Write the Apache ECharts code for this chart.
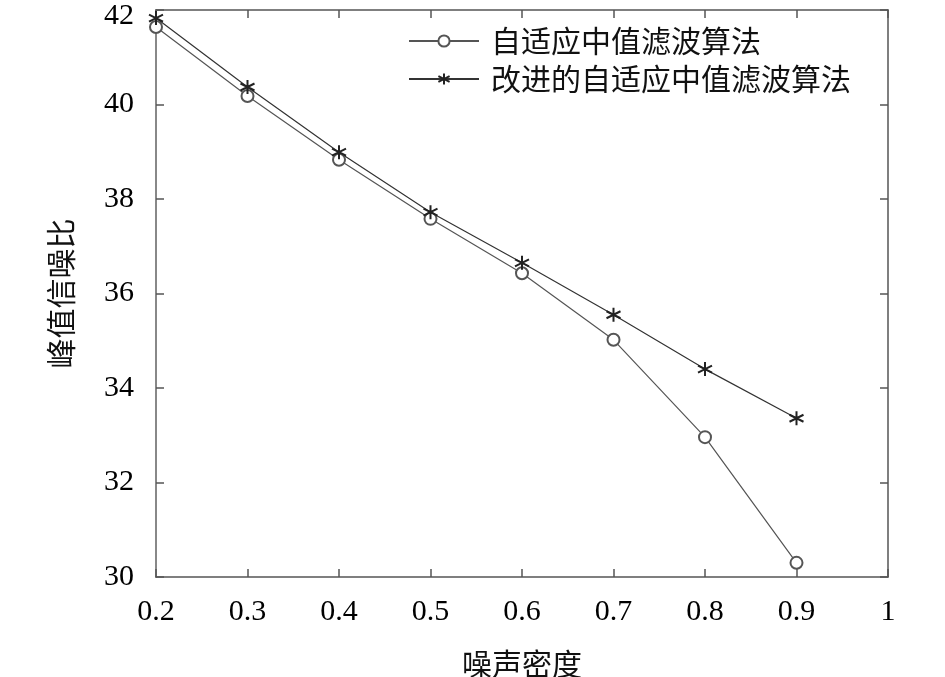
<!DOCTYPE html>
<html><head><meta charset="utf-8">
<script src="https://cdn.jsdelivr.net/npm/echarts@6/dist/echarts.min.js"></script>
<style>html,body{margin:0;padding:0;background:#fff}#c{width:945px;height:677px}</style>
</head><body><div id="c"></div>
<script>
const noiseDensity = [0.2, 0.3, 0.4, 0.5, 0.6, 0.7, 0.8, 0.9];
const adaptiveMedian = [41.64, 40.18, 38.83, 37.58, 36.43, 35.02, 32.96, 30.30];
const improvedMedian = [41.83, 40.37, 38.99, 37.72, 36.65, 35.55, 34.40, 33.36];
const seriesNames = ['自适应中值滤波算法', '改进的自适应中值滤波算法'];
const xTitle = '噪声密度';
const yTitle = '峰值信噪比';

const serif = 'Liberation Serif, Times New Roman, serif';
const cjk = 'Noto Sans CJK SC, sans-serif';
const axisColor = '#555';
const star = 'path://M0,-1L0,1M-0.866,-0.5L0.866,0.5M-0.866,0.5L0.866,-0.5';

const chart = echarts.init(document.getElementById('c'), null, {renderer: 'canvas'});
const fmt = v => String(Math.round(v * 10) / 10);
chart.setOption({
  animation: false,
  backgroundColor: '#fff',
  grid: {left: 156, right: 57, top: 10, bottom: 100, containLabel: false, outerBoundsMode: 'none'},
  legend: {
    orient: 'vertical', left: 403, top: 21, itemGap: 8,
    itemWidth: 70, itemHeight: 14,
    textStyle: {fontFamily: cjk, fontSize: 30, color: '#111', padding: [0, 0, 0, 7]},
    data: seriesNames
  },
  xAxis: [{
    type: 'value', min: 0.2, max: 1, interval: 0.1,
    name: xTitle, nameLocation: 'middle', nameGap: 72,
    nameTextStyle: {fontFamily: cjk, fontSize: 30, color: '#111'},
    axisLine: {onZero: false, lineStyle: {color: axisColor, width: 1.5}},
    axisTick: {inside: true, length: 8, lineStyle: {color: axisColor, width: 1.5}},
    axisLabel: {fontFamily: serif, fontSize: 30, color: '#000', margin: 20, formatter: fmt},
    splitLine: {show: false}
  }, {
    type: 'value', position: 'top', min: 0.2, max: 1, interval: 0.1,
    axisLine: {onZero: false, lineStyle: {color: axisColor, width: 1.5}},
    axisTick: {inside: true, length: 8, lineStyle: {color: axisColor, width: 1.5}},
    axisLabel: {show: false}, splitLine: {show: false}
  }],
  yAxis: [{
    type: 'value', min: 30, max: 42, interval: 2,
    name: yTitle, nameLocation: 'middle', nameGap: 80, nameRotate: 90,
    nameTextStyle: {fontFamily: cjk, fontSize: 30, color: '#111'},
    axisLine: {show: true, onZero: false, lineStyle: {color: '#888', width: 2}},
    axisTick: {show: true, inside: true, length: 8, lineStyle: {color: axisColor, width: 1.5}},
    axisLabel: {
      fontFamily: serif, fontSize: 30, color: '#000', margin: 22,
      formatter: v => v === 42 ? '{t|' + v + '}' : String(v),
      rich: {t: {fontFamily: serif, fontSize: 30, color: '#000', padding: [12, 0, 0, 0]}}
    },
    splitLine: {show: false}
  }, {
    type: 'value', position: 'right', min: 30, max: 42, interval: 2,
    axisLine: {show: true, onZero: false, lineStyle: {color: axisColor, width: 1.5}},
    axisTick: {show: true, inside: true, length: 8, lineStyle: {color: axisColor, width: 1.5}},
    axisLabel: {show: false}, splitLine: {show: false}
  }],
  series: [{
    name: seriesNames[0], type: 'line',
    data: noiseDensity.map((x, i) => [x, adaptiveMedian[i]]),
    symbol: 'emptyCircle', symbolSize: 12, showAllSymbol: true,
    lineStyle: {color: '#555', width: 1.2},
    itemStyle: {color: '#555', borderColor: '#555', borderWidth: 1.2}
  }, {
    name: seriesNames[1], type: 'line',
    data: noiseDensity.map((x, i) => [x, improvedMedian[i]]),
    symbol: star, symbolSize: 14, showAllSymbol: true,
    lineStyle: {color: '#333', width: 1.2},
    itemStyle: {color: 'none', borderColor: '#222', borderWidth: 2}
  }]
});
</script></body></html>
